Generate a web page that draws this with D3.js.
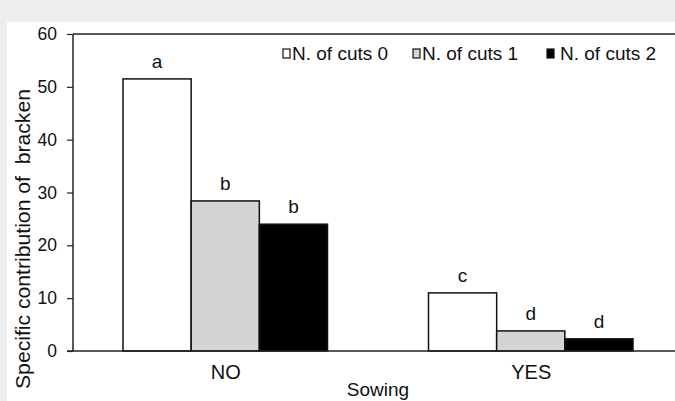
<!DOCTYPE html>
<html>
<head>
<meta charset="utf-8">
<script src="https://cdn.jsdelivr.net/npm/d3@7"></script>
<style>
  body { margin: 0; background: #ededed; }
  svg { display: block; font-family: "Liberation Sans", Arial, sans-serif; }
</style>
</head>
<body>
<div id="chart"></div>
<script>
// data
const sowing = ["NO", "YES"];
const cuts = ["N. of cuts 0", "N. of cuts 1", "N. of cuts 2"];
const valuesNo = [51.5, 28.4, 24.0];
const valuesYes = [11.0, 3.8, 2.3];
const lettersNo = ["a", "b", "b"];
const lettersYes = ["c", "d", "d"];
const yTicks = [0, 10, 20, 30, 40, 50, 60];

const W = 675, H = 401;
const margin = { top: 34, left: 73, bottom: 50 };
const plotRight = 684; // plot runs a bit past the window, as in the picture

const svg = d3.select("#chart").append("svg")
    .attr("width", W)
    .attr("height", H);

// grey page background with white figure area
svg.append("rect").attr("width", W).attr("height", H).attr("fill", "#ededed");
svg.append("rect").attr("x", 7).attr("y", 22).attr("width", W - 7).attr("height", H - 22).attr("fill", "#fff");

const x = d3.scaleBand()
    .domain(sowing)
    .range([margin.left, plotRight]);

const x1 = d3.scaleBand()
    .domain(cuts)
    .range([50, x.bandwidth() - 51]);

const y = d3.scaleLinear()
    .domain([0, 60])
    .range([H - margin.bottom, margin.top]);

const color = d3.scaleOrdinal()
    .domain(cuts)
    .range(["#ffffff", "#d4d4d4", "#000000"]);

const rows = [
    { group: "NO", values: valuesNo, letters: lettersNo },
    { group: "YES", values: valuesYes, letters: lettersYes }
];

// bars
const groups = svg.selectAll("g.grp")
    .data(rows)
    .enter().append("g")
    .attr("class", "grp")
    .attr("transform", d => `translate(${x(d.group)},0)`);

groups.selectAll("rect")
    .data(d => d.values.map((v, i) => ({ key: cuts[i], value: v, letter: d.letters[i] })))
    .enter().append("rect")
    .attr("x", d => x1(d.key))
    .attr("y", d => y(d.value))
    .attr("width", x1.bandwidth())
    .attr("height", d => y(0) - y(d.value))
    .attr("fill", d => color(d.key))
    .attr("stroke", "#111")
    .attr("stroke-width", 1.5);

groups.selectAll("text.letter")
    .data(d => d.values.map((v, i) => ({ key: cuts[i], value: v, letter: d.letters[i] })))
    .enter().append("text")
    .attr("class", "letter")
    .attr("x", d => x1(d.key) + x1.bandwidth() / 2)
    .attr("y", d => y(d.value) - 11)
    .attr("text-anchor", "middle")
    .style("font-size", "19px")
    .attr("fill", "#111")
    .text(d => d.letter);

// y axis
const yAxis = svg.append("g")
    .attr("transform", `translate(${margin.left},0)`)
    .call(d3.axisLeft(y).tickValues(yTicks).tickSize(6).tickPadding(10));
yAxis.select(".domain").remove();
yAxis.selectAll("line").attr("stroke", "#222").attr("stroke-width", 1.2);
yAxis.selectAll("text")
    .style("font-size", "17.5px")
    .style("font-family", "'Liberation Sans', Arial, sans-serif")
    .attr("fill", "#111");

// frame lines: left axis, top and bottom
svg.append("line")
    .attr("x1", margin.left).attr("x2", margin.left)
    .attr("y1", y(60)).attr("y2", y(0))
    .attr("stroke", "#222").attr("stroke-width", 1.5);
svg.append("line")
    .attr("x1", margin.left).attr("x2", W)
    .attr("y1", y(60)).attr("y2", y(60))
    .attr("stroke", "#222").attr("stroke-width", 1.5);
svg.append("line")
    .attr("x1", margin.left - 6).attr("x2", W)
    .attr("y1", y(0)).attr("y2", y(0))
    .attr("stroke", "#222").attr("stroke-width", 1.5);

// category labels
svg.selectAll("text.cat")
    .data(sowing)
    .enter().append("text")
    .attr("class", "cat")
    .attr("x", d => x(d) + x.bandwidth() / 2)
    .attr("y", y(0) + 28)
    .attr("text-anchor", "middle")
    .style("font-size", "20px")
    .attr("fill", "#111")
    .text(d => d);

// axis titles
svg.append("text")
    .attr("x", 378)
    .attr("y", 396)
    .attr("text-anchor", "middle")
    .style("font-size", "19px")
    .attr("fill", "#111")
    .text("Sowing");

svg.append("text")
    .attr("transform", "translate(30,239) rotate(-90)")
    .attr("text-anchor", "middle")
    .attr("xml:space", "preserve")
    .attr("textLength", 300)
    .attr("lengthAdjust", "spacingAndGlyphs")
    .style("white-space", "pre")
    .style("font-size", "20px")
    .attr("fill", "#111")
    .text("Specific contribution of  bracken");

// legend
const legendX = [283, 413, 547];
const legendGap = [9, 9, 13];
const legend = svg.selectAll("g.leg")
    .data(cuts)
    .enter().append("g")
    .attr("class", "leg")
    .attr("transform", (d, i) => `translate(${legendX[i]},49)`);

legend.append("rect")
    .attr("width", 7)
    .attr("height", 9)
    .attr("fill", d => color(d))
    .attr("stroke", "#111")
    .attr("stroke-width", 1.2);

legend.append("text")
    .attr("x", (d, i) => legendGap[i])
    .attr("y", 11)
    .style("font-size", "19px")
    .attr("fill", "#111")
    .text(d => d);
</script>
</body>
</html>
